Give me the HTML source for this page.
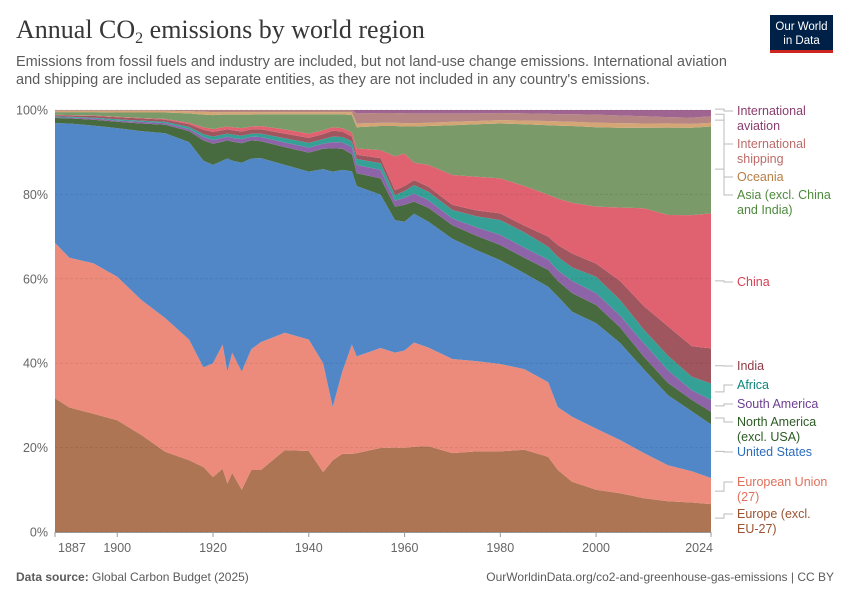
<!DOCTYPE html>
<html><head><meta charset="utf-8">
<style>
body{margin:0;background:#fff;font-family:"Liberation Sans",sans-serif;}
#wrap{position:relative;width:850px;height:600px;overflow:hidden;}
</style></head>
<body>
<div id="wrap">
<svg id="svg" width="850" height="600" xmlns="http://www.w3.org/2000/svg">
<text x="16" y="38" font-family="Liberation Serif, serif" font-size="26" fill="#373737">Annual CO<tspan font-size="16" dy="5">2</tspan><tspan dy="-5"> emissions by world region</tspan></text>
<text x="16" y="66" font-size="14.5" fill="#5b5b5b">Emissions from fossil fuels and industry are included, but not land-use change emissions. International aviation</text>
<text x="16" y="84" font-size="14.5" fill="#5b5b5b">and shipping are included as separate entities, as they are not included in any country's emissions.</text>
<g>
<rect x="770" y="15" width="63" height="35" fill="#002147"/>
<rect x="770" y="50" width="63" height="3" fill="#ce261e"/>
<text x="801.5" y="30" font-size="11.5" fill="#fff" text-anchor="middle">Our World</text>
<text x="801.5" y="44" font-size="11.5" fill="#fff" text-anchor="middle">in Data</text>
</g>
<g id="plot"></g>
<g id="axes"></g>
<g id="legend"></g>
<text x="16" y="581" font-size="12" fill="#5b5b5b"><tspan font-weight="bold">Data source:</tspan> Global Carbon Budget (2025)</text>
<text x="834" y="581" font-size="12" fill="#5b5b5b" text-anchor="end">OurWorldinData.org/co2-and-greenhouse-gas-emissions | CC BY</text>
</svg>
</div>
<script>
const years=[1887,1890,1895,1900,1905,1910,1915,1918,1920,1922,1923,1924,1926,1928,1930,1935,1940,1943,1945,1947,1949,1950,1955,1958,1960,1962,1965,1970,1975,1980,1985,1990,1992,1995,2000,2005,2010,2015,2020,2024];
const europeExclEU=[31.7,29.5,28,26.5,23,19,17,15.4,13,15,11.5,14,10,14.7,14.7,19.4,19.2,14.2,17,18.5,18.5,18.7,19.9,20,19.9,20.2,20.3,18.7,19.1,19.1,19.5,17.8,14.7,11.9,10,9.2,8,7.3,7,6.6];
const eu27=[36.8,35.5,35.7,34,32,31.7,28.6,23.6,27,29.4,26.5,28.5,28,28.6,30.3,27.8,26.4,25.8,12.6,19.5,25.9,22.9,23.7,22.5,23.1,24.7,23.4,22.3,21.4,20.7,19.1,17.7,14.9,15.4,14.5,12.6,10.7,8.6,7.4,6.2];
const unitedStates=[28.4,31.8,32.6,35.2,40,43.8,46.8,49,47,43.6,50.5,45.5,49.5,45.2,43.6,39.8,39.8,46,55.8,47.8,41.1,40.4,36.3,31.4,30.5,30.5,29.8,28.5,26.3,24.6,22.7,22.6,26.2,24.9,25,23,19.8,16.7,14.2,12.7];
const northAmericaExclUSA=[1.2,1.2,1.4,1.5,1.8,2.0,2.6,4.8,5,4.5,4.3,4.5,4.6,4.3,4,4.2,4.5,4.8,5.5,5.0,4.0,3.0,3.9,3.2,4.0,2.9,3.3,3.2,3.4,3.6,3.7,4.0,3.7,4.4,4.3,3.7,3.0,2.9,2.7,3.0];
const southAmerica=[0.2,0.2,0.3,0.3,0.4,0.4,0.5,0.8,0.9,0.9,0.9,0.9,1.0,0.9,1.0,1.1,1.2,1.2,1.5,1.5,1.7,2.0,2.0,1.4,1.7,1.9,1.8,1.6,2.0,2.4,2.4,2.4,2.5,2.9,2.8,2.8,3.2,3.0,2.3,2.8];
const africa=[0.2,0.2,0.2,0.3,0.3,0.3,0.5,0.7,0.8,0.8,0.7,0.8,0.8,0.7,0.8,1.0,1.1,1.1,1.3,1.3,1.4,1.4,1.6,1.3,1.6,2.0,2.0,2.0,2.6,3.5,3.6,3.1,3.2,3.2,3.9,3.7,3.2,3.5,3.2,3.9];
const india=[0.3,0.3,0.4,0.5,0.5,0.5,0.6,1.0,1.1,1.0,1.0,1.0,1.0,1.0,1.0,1.1,1.2,1.2,1.4,1.3,1.1,1.0,1.2,1.2,1.2,1.2,1.2,1.2,1.4,1.6,1.6,2.4,2.8,3.3,3.1,4.5,5.6,7.0,7.2,8.3];
const china=[0.1,0.1,0.1,0.1,0.1,0.2,0.4,0.6,0.7,0.7,0.7,0.7,0.8,0.7,0.8,1.0,1.0,0.9,0.8,0.8,1.0,1.5,1.9,8.0,7.7,4.1,5.2,7.1,8.0,8.3,9.4,9.9,11.0,12.0,13.5,17.4,23.2,26.5,31.1,32.0];
const asiaExcl=[0.6,0.7,0.8,1.0,1.3,1.5,2.2,3.0,3.3,3.0,2.8,3.0,3.2,2.8,2.8,3.6,4.6,3.8,3.1,3.3,4.1,5.0,5.7,7.2,6.4,8.6,9.2,11.8,12.4,13.0,14.6,16.5,17.3,18.2,18.8,18.9,19.1,20.8,20.7,20.6];
const oceania=[0.3,0.3,0.3,0.4,0.4,0.4,0.5,0.7,0.7,0.6,0.6,0.6,0.6,0.6,0.5,0.5,0.5,0.5,0.5,0.5,0.7,0.9,0.8,0.8,0.8,0.8,0.8,0.8,0.8,0.8,0.9,1.0,1.0,1.0,1.1,1.1,1.0,1.0,0.9,0.9];
const shipping=[0.2,0.2,0.2,0.2,0.2,0.2,0.3,0.4,0.5,0.5,0.5,0.5,0.5,0.5,0.5,0.5,0.5,0.5,0.5,0.5,0.5,2.4,2.3,2.3,2.3,2.3,2.2,2.0,1.8,1.7,1.7,1.7,1.7,1.8,1.9,1.8,1.7,1.5,1.5,1.5];
const aviation=[0,0,0,0,0,0,0,0,0,0,0,0,0,0,0,0,0,0,0,0,0,0.8,0.7,0.7,0.8,0.8,0.8,0.8,0.8,0.7,0.8,0.9,1.0,1.0,1.1,1.3,1.5,1.7,1.8,1.5];
const seriesNames=["Europe (excl. EU-27)","European Union (27)","United States","North America (excl. USA)","South America","Africa","India","China","Asia (excl. China and India)","Oceania","International shipping","International aviation"];
const seriesColors=["#ad7553","#ec8b7b","#5187c7","#476b3f","#8e64a8","#35a096","#a0565e","#e06271","#7a9a69","#d5a675","#b58683","#a06490"];
const seriesData=[europeExclEU,eu27,unitedStates,northAmericaExclUSA,southAmerica,africa,india,china,asiaExcl,oceania,shipping,aviation];
const yTicks=[0,20,40,60,80,100];
const xTicks=[1887,1900,1920,1940,1960,1980,2000,2024];

const X0=55,X1=711,Y0=532,Y1=110;
const xScale=y=>X0+(y-1887)/(2024-1887)*(X1-X0);
const yScale=v=>Y0-v/100*(Y0-Y1);
const NS="http://www.w3.org/2000/svg";
const plot=document.getElementById('plot');
const totals=years.map((_,i)=>seriesData.reduce((s,a)=>s+a[i],0));
let cum=years.map(()=>0);
seriesData.forEach((arr,k)=>{
  const lower=cum.slice();
  const upper=cum.map((c,i)=>c+arr[i]/totals[i]*100);
  let d="M"+years.map((yr,i)=>xScale(yr).toFixed(1)+","+yScale(upper[i]).toFixed(1)).join("L");
  for(let i=years.length-1;i>=0;i--) d+="L"+xScale(years[i]).toFixed(1)+","+yScale(lower[i]).toFixed(1);
  d+="Z";
  const p=document.createElementNS(NS,'path');
  p.setAttribute('d',d);p.setAttribute('fill',seriesColors[k]);
  
  
  plot.appendChild(p);
  cum=upper;
});
const axes=document.getElementById('axes');
yTicks.forEach(t=>{
  const l=document.createElementNS(NS,'line');
  l.setAttribute('x1',X0);l.setAttribute('x2',X1);l.setAttribute('y1',yScale(t));l.setAttribute('y2',yScale(t));
  l.setAttribute('stroke','#000');l.setAttribute('stroke-opacity','0.08');l.setAttribute('stroke-dasharray','3,2');
  
  
  axes.appendChild(l);
  const tx=document.createElementNS(NS,'text');
  tx.setAttribute('x',48);tx.setAttribute('y',yScale(t)+4.5);tx.setAttribute('text-anchor','end');
  tx.setAttribute('font-size','12.5');tx.setAttribute('fill','#666');tx.textContent=t+'%';
  
  
  axes.appendChild(tx);
});
const base=document.createElementNS(NS,'line');
base.setAttribute('x1',X0);base.setAttribute('x2',X1);base.setAttribute('y1',Y0+0.5);base.setAttribute('y2',Y0+0.5);base.setAttribute('stroke','#999');


axes.appendChild(base);
xTicks.forEach((t,i)=>{
  const x=xScale(t);
  const l=document.createElementNS(NS,'line');
  l.setAttribute('x1',x);l.setAttribute('x2',x);l.setAttribute('y1',Y0);l.setAttribute('y2',Y0+5);l.setAttribute('stroke','#999');
  
  
  axes.appendChild(l);
  const tx=document.createElementNS(NS,'text');
  let lx=x,anchor='middle';
  if(i===0){lx=x+3;anchor='start';}
  if(i===xTicks.length-1){lx=x+2;anchor='end';}
  tx.setAttribute('x',lx);tx.setAttribute('y',552);tx.setAttribute('text-anchor',anchor);
  tx.setAttribute('font-size','12.5');tx.setAttribute('fill','#666');tx.textContent=t;
  
  
  axes.appendChild(tx);
});
// legend labels
const labels=[
 {l:["International","aviation"],y:115,c:"#8a3d6f",ty:100.2},
 {l:["International","shipping"],y:148,c:"#bb6b68",ty:99},
 {l:["Oceania"],y:181,c:"#b77d45",ty:97.6},
 {l:["Asia (excl. China","and India)"],y:199,c:"#4d8a3c",ty:86},
 {l:["China"],y:286,c:"#d63f52",ty:59.5},
 {l:["India"],y:370,c:"#8e3a45",ty:39.4},
 {l:["Africa"],y:389,c:"#0b857d",ty:33.2},
 {l:["South America"],y:408,c:"#6c3e91",ty:29.9},
 {l:["North America","(excl. USA)"],y:426,c:"#2c5a24",ty:27},
 {l:["United States"],y:456,c:"#2b6bbc",ty:19.1},
 {l:["European Union","(27)"],y:486,c:"#e0705c",ty:9.7},
 {l:["Europe (excl.","EU-27)"],y:518,c:"#9b5331",ty:3.3}
];
const lg=document.getElementById('legend');
labels.forEach(o=>{
  const g=document.createElementNS(NS,'g');
  
  
  const yy=yScale(o.ty);
  const path=document.createElementNS(NS,'path');
  path.setAttribute('d',`M715,${yy}H724V${o.y-4}H733`);
  path.setAttribute('fill','none');path.setAttribute('stroke','#bbb');path.setAttribute('stroke-width','1');
  g.appendChild(path);
  o.l.forEach((s,j)=>{
    const t=document.createElementNS(NS,'text');
    t.setAttribute('x',737);t.setAttribute('y',o.y+j*15);t.setAttribute('font-size','12.5');t.setAttribute('fill',o.c);
    t.textContent=s;g.appendChild(t);
  });
  lg.appendChild(g);
});
</script>
</body></html>
